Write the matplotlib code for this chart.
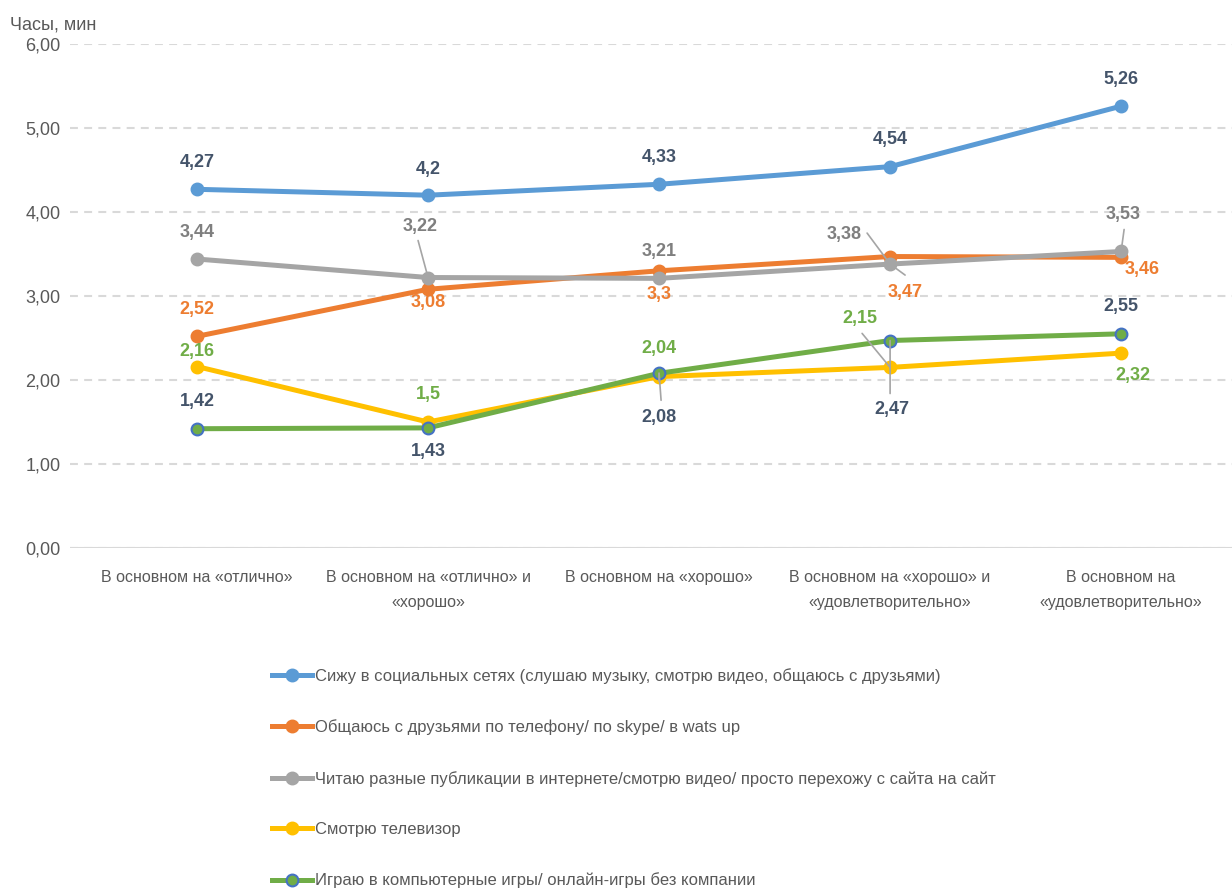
import matplotlib
matplotlib.use("Agg")
from matplotlib import pyplot as plt
import numpy as np

plt.rcParams["font.family"] = ["Liberation Sans", "DejaVu Sans"]

categories = ["В основном на «отлично»",
              "В основном на «отлично» и\n«хорошо»",
              "В основном на «хорошо»",
              "В основном на «хорошо» и\n«удовлетворительно»",
              "В основном на\n«удовлетворительно»"]

names = ["Сижу в социальных сетях (слушаю музыку, смотрю видео, общаюсь с друзьями)",
         "Общаюсь с друзьями по телефону/ по skype/ в wats up",
         "Читаю разные публикации в интернете/смотрю видео/ просто перехожу с сайта на сайт",
         "Смотрю телевизор",
         "Играю в компьютерные игры/ онлайн-игры без компании"]

social = [4.27, 4.2, 4.33, 4.54, 5.26]
phone = [2.52, 3.08, 3.3, 3.47, 3.46]
reading = [3.44, 3.22, 3.21, 3.38, 3.53]
tv = [2.16, 1.5, 2.04, 2.15, 2.32]
games = [1.42, 1.43, 2.08, 2.47, 2.55]

series = [social, phone, reading, tv, games]
colors = ["#5B9BD5", "#ED7D31", "#A5A5A5", "#FFC000", "#70AD47"]
label_colors = ["#44546A", "#ED7D31", "#7F7F7F", "#70AD47", "#44546A"]

# label offsets in pixels (dx, dy), y up
offsets = [
    [(0, 27), (0, 26), (0, 27), (0, 27), (0, 27)],
    [(0, 27), (0, -13), (0, -24), (15, -36), (21, -12)],
    [(0, 27), (-8, 51), (0, 27), (-46, 30), (2, 37)],
    [(0, 15), (0, 27), (0, 28), (-30, 49), (12, -22)],
    [(0, 27), (0, -24), (0, -44), (2, -69), (0, 27)],
]
# leader lines: (series, point, start offset px, end offset px)
leaders = [
    (2, 1, (-10, 37), (0, 0)),
    (2, 3, (-23, 31), (15, -11)),
    (2, 4, (3, 22), (0, 0)),
    (3, 3, (-28, 34), (0, 0)),
    (4, 2, (2, -27), (0, -8)),
    (4, 3, (0, -53), (0, 0)),
]

fig = plt.figure(figsize=(12.32, 8.91), dpi=100)
ax = fig.add_axes([70 / 1232, 1 - 548 / 891, 1 - 70 / 1232, (548 - 44) / 891])

x = np.arange(len(categories))
for i, (vals, c) in enumerate(zip(series, colors)):
    edge = "#4472C4" if i == 4 else c
    ax.plot(x, vals, color=c, lw=3.6, marker="o", ms=8.5, mfc=c, mec=edge,
            mew=1.5, label=names[i], zorder=3 + i)

pt = 72 / 100
for i, vals in enumerate(series):
    for j, v in enumerate(vals):
        dx, dy = offsets[i][j]
        txt = ("%g" % v).replace(".", ",")
        ax.annotate(txt, (j, v), xytext=(dx * pt, dy * pt),
                    textcoords="offset points", ha="center", va="center",
                    fontsize=13, fontweight="bold", color=label_colors[i],
                    zorder=10)

for i, j, s, e in leaders:
    v = series[i][j]
    for p in (s, e):
        if p == (0, 0):
            continue
        ax.annotate("", (j, v), xytext=(p[0] * pt, p[1] * pt),
                    textcoords="offset points",
                    arrowprops=dict(arrowstyle="-", color="#A5A5A5", lw=1.2,
                                    shrinkA=0, shrinkB=0),
                    zorder=9)

ax.set_xlim(-0.55, 4.48)
ax.set_ylim(0, 6)
ax.set_yticks(np.arange(0, 7))
ax.set_yticklabels(["%d,00" % t for t in range(7)], fontsize=13, color="#595959")
ax.set_xticks(x)
ax.set_xticklabels(categories, fontsize=11.5, color="#595959", linespacing=1.85)
ax.tick_params(length=0, pad=7)
ax.tick_params(axis="x", pad=16)
for s in ax.spines.values():
    s.set_visible(False)
ax.yaxis.grid(True, color="#D9D9D9", lw=1.5, ls=(0, (3.8, 3)))
ax.axhline(0, color="#D9D9D9", lw=1.5, zorder=1)
ax.set_axisbelow(True)

fig.text(10 / 1232, 1 - 25 / 891, "Часы, мин", fontsize=13, color="#595959",
         va="center", ha="left")

fig.legend(loc="upper left", bbox_to_anchor=(272 / 1232, 1 - 668 / 891),
           frameon=False, fontsize=12, handlelength=2.4, handletextpad=0.2,
           labelspacing=2.13, borderpad=0, borderaxespad=0, labelcolor="#595959")

fig.savefig("out.png", dpi=100)
